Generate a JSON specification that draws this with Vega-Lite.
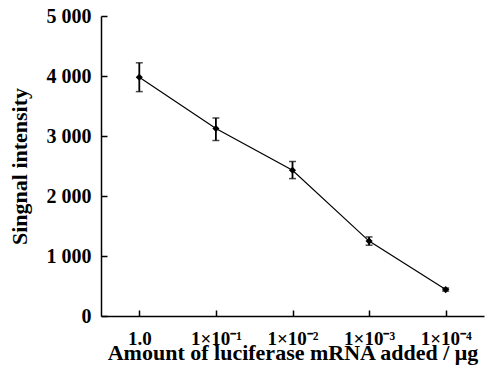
{
  "$schema": "https://vega.github.io/schema/vega-lite/v6.json",
  "width": 383,
  "height": 300,
  "autosize": "none",
  "padding": {"left": 101, "top": 16, "right": 9, "bottom": 50},
  "background": "white",
  "config": {
    "view": {"stroke": null},
    "font": "Liberation Serif",
    "axis": {
      "domainColor": "black",
      "domainWidth": 1.5,
      "tickColor": "black",
      "tickWidth": 1.5,
      "grid": false,
      "labelFont": "Liberation Serif",
      "labelFontWeight": "bold",
      "labelColor": "#000000",
      "labelFontSize": 20,
      "titleFont": "Liberation Serif",
      "titleFontWeight": "bold",
      "titleColor": "#000000",
      "titleFontSize": 22
    }
  },
  "data": {
    "values": [
      {"amount": "1.0", "signal": 3980, "lo": 3740, "hi": 4220},
      {"amount": "1×10⁻¹", "signal": 3125, "lo": 2925, "hi": 3300},
      {"amount": "1×10⁻²", "signal": 2430, "lo": 2290, "hi": 2575},
      {"amount": "1×10⁻³", "signal": 1248, "lo": 1180, "hi": 1318},
      {"amount": "1×10⁻⁴", "signal": 440, "lo": 415, "hi": 465}
    ]
  },
  "encoding": {
    "x": {
      "field": "amount",
      "type": "ordinal",
      "sort": null,
      "scale": {"type": "point", "padding": 0.5},
      "axis": {
        "title": "Amount of luciferase mRNA added / μg",
        "labelAngle": 0,
        "labelFontSize": 19,
        "tickSize": -6,
        "labelPadding": 19,
        "titlePadding": -6,
        "titleColor": "#000000",
        "labelColor": "#000000"
      }
    }
  },
  "layer": [
    {
      "mark": {"type": "rule", "color": "black", "strokeWidth": 1.8},
      "encoding": {
        "y": {"field": "lo", "type": "quantitative"},
        "y2": {"field": "hi"}
      }
    },
    {
      "mark": {"type": "tick", "color": "black", "orient": "horizontal", "size": 7, "thickness": 1.5},
      "encoding": {"y": {"field": "lo", "type": "quantitative"}}
    },
    {
      "mark": {"type": "tick", "color": "black", "orient": "horizontal", "size": 7, "thickness": 1.5},
      "encoding": {"y": {"field": "hi", "type": "quantitative"}}
    },
    {
      "mark": {"type": "line", "color": "black", "strokeWidth": 1.2},
      "encoding": {
        "y": {
          "field": "signal",
          "type": "quantitative",
          "scale": {"domain": [0, 5000], "nice": false},
          "axis": {
            "title": "Singnal intensity",
            "values": [0, 1000, 2000, 3000, 4000, 5000],
            "labelExpr": "replace(format(datum.value, ','), ',', ' ')",
            "tickSize": -6,
            "labelPadding": 16,
            "titlePadding": 15,
            "titleColor": "#000000",
            "labelColor": "#000000"
          }
        }
      }
    },
    {
      "mark": {"type": "point", "shape": "diamond", "filled": true, "color": "black", "size": 50, "opacity": 1},
      "encoding": {"y": {"field": "signal", "type": "quantitative"}}
    }
  ]
}
